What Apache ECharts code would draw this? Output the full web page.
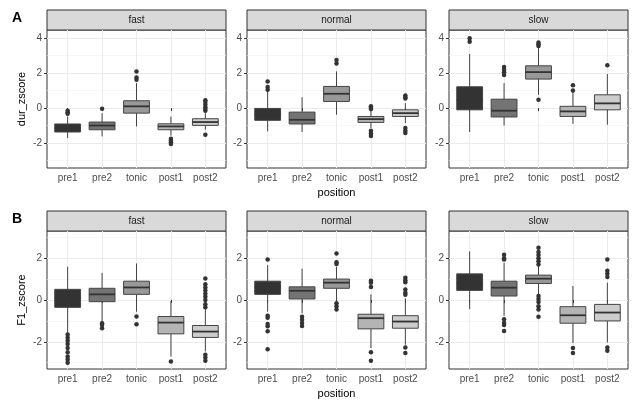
<!DOCTYPE html>
<html>
<head>
<meta charset="utf-8">
<title>dur_zscore / F1_zscore by position</title>
<script src="https://cdn.jsdelivr.net/npm/echarts@6/dist/echarts.min.js"></script>
<style>
  html, body { margin: 0; padding: 0; background: #fff; }
  #chart { width: 633px; height: 402px; }
</style>
</head>
<body>
<div id="chart"></div>
<script>
// facets and categories
const positions = ['pre1', 'pre2', 'tonic', 'post1', 'post2'];
const speeds = ['fast', 'normal', 'slow'];

// each box: [lower whisker, Q1, median, Q3, upper whisker]
const durFast = [
  [-1.71, -1.37, -1.14, -0.91, -0.48],
  [-1.62, -1.24, -1.00, -0.80, -0.29],
  [-1.05, -0.29, 0.10, 0.42, 1.43],
  [-1.58, -1.24, -1.05, -0.90, -0.48],
  [-1.24, -0.99, -0.80, -0.61, -0.29]
];
const durNormal = [
  [-1.33, -0.70, -0.35, -0.02, 1.14],
  [-1.37, -0.91, -0.67, -0.23, 0.62],
  [-0.38, 0.38, 0.82, 1.24, 2.10],
  [-1.14, -0.82, -0.63, -0.48, -0.10],
  [-0.86, -0.48, -0.29, -0.10, 0.29]
];
const durSlow = [
  [-1.37, -0.10, 0.45, 1.22, 3.10],
  [-1.00, -0.51, -0.15, 0.51, 1.43],
  [0.76, 1.66, 2.06, 2.42, 3.45],
  [-0.90, -0.48, -0.19, 0.10, 0.95],
  [-0.95, -0.10, 0.27, 0.76, 1.95]
];
const f1Fast = [
  [-1.59, -0.35, 0.10, 0.51, 1.59],
  [-1.03, -0.08, 0.27, 0.56, 1.30],
  [-0.56, 0.27, 0.60, 0.90, 1.75],
  [-2.70, -1.62, -1.08, -0.79, -0.05],
  [-2.46, -1.79, -1.51, -1.22, -0.40]
];
const f1Normal = [
  [-0.56, 0.27, 0.60, 0.90, 1.67],
  [-0.63, 0.05, 0.44, 0.63, 1.50],
  [-0.08, 0.56, 0.83, 1.00, 1.59],
  [-2.30, -1.38, -0.87, -0.68, 0.27],
  [-2.14, -1.35, -1.03, -0.75, 0.08]
];
const f1Slow = [
  [-0.44, 0.46, 0.80, 1.25, 2.33],
  [-0.76, 0.19, 0.59, 0.90, 1.78],
  [0.27, 0.79, 1.02, 1.19, 1.62],
  [-2.06, -1.11, -0.73, -0.32, 0.67],
  [-2.03, -1.00, -0.60, -0.21, 0.83]
];

// outliers, one list per position
const durFastOut = [
  [-0.15, -0.25, -0.32],
  [-0.04],
  [2.10, 1.75, 1.62],
  [-1.75, -1.85, -1.95, -2.05],
  [0.45, 0.35, 0.20, 0.05, -0.05, -0.15, -1.52]
];
const durNormalOut = [
  [1.52, 1.20, 1.05],
  [],
  [2.75, 2.55],
  [0.10, 0.02, -0.05, -1.30, -1.45, -1.60],
  [0.72, 0.62, 0.55, -1.14, -1.30, -1.43]
];
const durSlowOut = [
  [4.00, 3.80],
  [2.35, 2.20, 2.05, 1.90],
  [3.75, 3.65, 3.55, 0.48],
  [1.30, 1.00],
  [2.45]
];
const f1FastOut = [
  [-1.65, -1.80, -1.95, -2.10, -2.30, -2.50, -2.70, -2.85, -3.00],
  [-1.11, -1.20, -1.35],
  [-0.79, -1.16],
  [-2.94],
  [1.03, 0.75, 0.60, 0.45, 0.30, 0.15, 0.00, -0.20, -0.35, -2.62, -2.75, -2.90]
];
const f1NormalOut = [
  [1.94, -0.75, -0.85, -1.15, -1.25, -1.50, -2.35],
  [-0.80, -0.95, -1.10, -1.24],
  [2.22, 1.80, 1.72, -0.16, -0.30, -0.45],
  [0.92, 0.82, 0.62, -2.50, -2.90],
  [1.06, 0.95, 0.85, 0.50, 0.35, 0.25, -2.27, -2.54]
];
const f1SlowOut = [
  [],
  [2.17, 2.00, 1.94, -0.92, -1.10, -1.20, -1.48],
  [2.50, 2.30, 2.15, 2.00, 1.85, 1.70, 0.19, 0.05, -0.10, -0.30, -0.45, -0.80],
  [-2.30, -2.54],
  [1.94, 1.40, 1.25, 1.10, -2.27, -2.43]
];

// axis limits and tick labels
const durRange = [-3.43, 4.47];
const f1Range = [-3.3, 3.3];
const durTicks = [-2, 0, 2, 4];
const f1Ticks = [-2, 0, 2];
const minorTicks = [-3, -1, 1, 3];

const rows = [
  { tag: 'A', yName: 'dur_zscore', range: durRange, ticks: durTicks, boxes: [durFast, durNormal, durSlow], outs: [durFastOut, durNormalOut, durSlowOut] },
  { tag: 'B', yName: 'F1_zscore', range: f1Range, ticks: f1Ticks, boxes: [f1Fast, f1Normal, f1Slow], outs: [f1FastOut, f1NormalOut, f1SlowOut] }
];

const FONT = '"Liberation Sans", Arial, Helvetica, sans-serif';
const fills = ['#333333', '#747474', '#989898', '#B4B4B4', '#CCCCCC'];
const panelLeft = [47, 247, 449];
const panelW = 179;
const rowTop = [30, 231];
const panelH = 138;
const stripH = 20;
// ggplot puts discrete positions 0.6 units in from each edge
const inset = panelW * 0.6 / 5.2;

// box, whiskers and median drawn through the axes of the grid
function renderBox(params, api) {
  const x = api.value(0);
  const lo = api.coord([x, api.value(1)]);
  const q1 = api.coord([x, api.value(2)]);
  const med = api.coord([x, api.value(3)]);
  const q3 = api.coord([x, api.value(4)]);
  const hi = api.coord([x, api.value(5)]);
  const half = api.size([1, 0])[0] * 0.375;
  const line = { stroke: '#444444', lineWidth: 1 };
  return {
    type: 'group',
    children: [
      { type: 'line', shape: { x1: hi[0], y1: hi[1], x2: q3[0], y2: q3[1] }, style: line },
      { type: 'line', shape: { x1: lo[0], y1: lo[1], x2: q1[0], y2: q1[1] }, style: line },
      { type: 'rect', shape: { x: q3[0] - half, y: q3[1], width: half * 2, height: q1[1] - q3[1] },
        style: { fill: fills[x], stroke: '#444444', lineWidth: 1 } },
      { type: 'line', shape: { x1: med[0] - half, y1: med[1], x2: med[0] + half, y2: med[1] },
        style: { stroke: '#333333', lineWidth: 1.8 } }
    ]
  };
}

const grid = [], xAxis = [], yAxis = [], series = [], graphic = [];

rows.forEach(function (row, r) {
  graphic.push({
    type: 'text', left: 12, top: rowTop[r] - 19,
    style: { text: row.tag, font: 'bold 14px ' + FONT, fill: '#000' }
  });
  speeds.forEach(function (speed, c) {
    const g = grid.length;
    // panel background, border and horizontal grid lines
    grid.push({ left: panelLeft[c], top: rowTop[r], width: panelW, height: panelH,
      show: true, backgroundColor: '#fff', borderColor: '#333333', borderWidth: 1 });
    // data area
    grid.push({ left: panelLeft[c] + inset, top: rowTop[r], width: panelW - 2 * inset, height: panelH });

    xAxis.push({ type: 'value', gridIndex: g, min: 0, max: 1, show: false });
    xAxis.push({
      type: 'category', gridIndex: g + 1, data: positions, boundaryGap: false,
      axisLine: { show: false },
      axisTick: { show: true, length: 3, lineStyle: { color: '#333333' } },
      axisLabel: { interval: 0, fontSize: 10, color: '#4D4D4D', margin: 5, fontFamily: FONT },
      splitLine: { show: true, lineStyle: { color: '#EBEBEB', width: 1 } },
      name: c === 1 ? 'position' : '', nameLocation: 'middle', nameGap: 19,
      nameTextStyle: { fontSize: 11, color: '#000', fontFamily: FONT }
    });

    const ya = yAxis.length;
    yAxis.push({
      type: 'value', gridIndex: g, min: row.range[0], max: row.range[1],
      axisLine: { show: false },
      axisTick: { show: true, length: 3, customValues: row.ticks, lineStyle: { color: '#333333' } },
      axisLabel: { customValues: row.ticks, fontSize: 10, color: '#4D4D4D', margin: 5, fontFamily: FONT },
      splitLine: { show: true, lineStyle: { color: '#EBEBEB', width: 1 } },
      name: c === 0 ? row.yName : '', nameLocation: 'middle', nameGap: 20,
      nameTextStyle: { fontSize: 11, color: '#000', fontFamily: FONT }
    });
    yAxis.push({
      type: 'value', gridIndex: g, min: row.range[0], max: row.range[1],
      axisLine: { show: false },
      axisTick: { show: false, customValues: minorTicks },
      axisLabel: { show: false, customValues: minorTicks },
      splitLine: { show: true, lineStyle: { color: '#F2F2F2', width: 0.6 } }
    });
    yAxis.push({ type: 'value', gridIndex: g + 1, min: row.range[0], max: row.range[1], show: false });

    const boxes = row.boxes[c];
    const outs = row.outs[c];
    series.push({
      type: 'custom', name: row.yName + ' ' + speed,
      xAxisIndex: g + 1, yAxisIndex: ya + 2,
      renderItem: renderBox,
      encode: { x: 0, y: [1, 2, 3, 4, 5] },
      data: boxes.map(function (b, i) { return [i].concat(b); })
    });
    const pts = [];
    outs.forEach(function (list, i) { list.forEach(function (v) { pts.push([i, v]); }); });
    series.push({
      type: 'scatter', name: row.yName + ' ' + speed + ' outliers',
      xAxisIndex: g + 1, yAxisIndex: ya + 2,
      symbolSize: 4.5, itemStyle: { color: '#333333', opacity: 1 },
      data: pts
    });

    // facet strip
    graphic.push({
      type: 'rect',
      shape: { x: panelLeft[c], y: rowTop[r] - stripH, width: panelW, height: stripH },
      style: { fill: '#D9D9D9', stroke: '#333333', lineWidth: 1 }
    });
    graphic.push({
      type: 'text',
      style: { text: speed, x: panelLeft[c] + panelW / 2, y: rowTop[r] - stripH / 2,
        textAlign: 'center', textVerticalAlign: 'middle', align: 'center', verticalAlign: 'middle',
        font: '10px ' + FONT, fill: '#1A1A1A' }
    });
  });
});

const chart = echarts.init(document.getElementById('chart'));
chart.setOption({
  animation: false,
  backgroundColor: '#fff',
  textStyle: { fontFamily: FONT },
  grid: grid,
  xAxis: xAxis,
  yAxis: yAxis,
  series: series,
  graphic: graphic
});
</script>
</body>
</html>
